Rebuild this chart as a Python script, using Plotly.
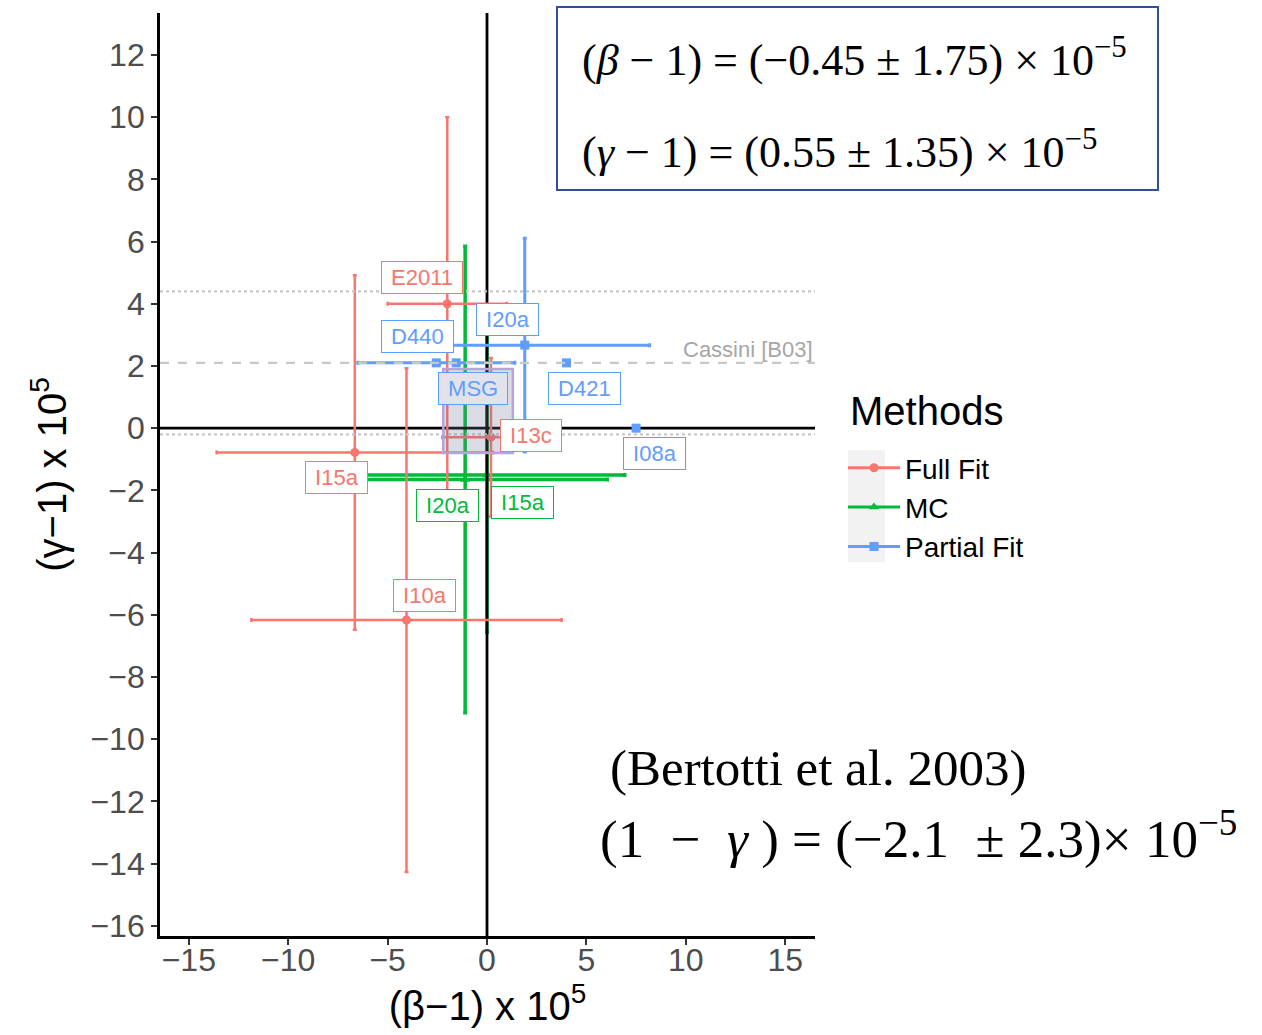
import plotly.graph_objects as go

# ---------------- data ----------------
full_labels = ["E2011", "I15a", "I10a", "I13c"]
full_beta = [-2.0, -6.65, -4.05, 0.2]
full_beta_err = [3.0, 6.95, 7.8, 2.45]
full_gamma = [4.0, -0.78, -6.17, -0.29]
full_gamma_err = [6.0, 5.7, 8.1, 2.55]

mc_labels = ["I20a", "I15a"]
mc_beta = [-1.1, 0.0]
mc_beta_err = [7.15, 6.93]
mc_gamma = [-1.65, -1.51]
mc_gamma_err = [7.5, 5.05]

pf_labels = ["I20a", "D440", "MSG", "D421", "I08a"]
pf_beta = [1.9, -2.55, -1.55, 4.0, 7.5]
pf_beta_err = [6.28, 3.95, 0.0, 0.0, 0.0]
pf_gamma = [2.67, 2.1, 2.1, 2.1, 0.0]
pf_gamma_err = [3.44, 0.0, 0.0, 0.0, 0.0]

combined_beta, combined_beta_err = -0.45, 1.75
combined_gamma, combined_gamma_err = 0.55, 1.35
cassini_gamma, cassini_gamma_err = 2.1, 2.3

x_ticks = [-15, -10, -5, 0, 5, 10, 15]
y_ticks = list(range(-16, 13, 2))
x_range = [-16.45, 16.5]
y_range = [-16.33, 13.35]

# ---------------- style ----------------
RED, GREEN, BLUE = "#F8766D", "#00BA38", "#619CFF"
full_shift = [(-25, 26), (-18, -25), (18, 25), (40, 2)]
mc_shift = [(-18, -26), (35, -27)]
pf_shift = [(-17, 26), (-19, 26), (17, -26), (18, -26), (18, -25)]

# plot area in pixels
L, R, T, B = 160, 815, 13, 936
W, H = 1262, 1035


def px(xp):
    return (xp - L) / (R - L)


def py(yp):
    return (B - yp) / (B - T)


fig = go.Figure()


def add_series(xs, xe, ys, ye, color, symbol, thick):
    fig.add_trace(go.Scatter(
        x=xs, y=ys, mode="markers",
        marker=dict(color=color, symbol=symbol, size=9),
        error_x=dict(type="data", array=xe, symmetric=True, color=color, thickness=thick, width=2),
        error_y=dict(type="data", array=ye, symmetric=True, color=color, thickness=thick, width=2),
        showlegend=False, hoverinfo="skip"))


add_series(mc_beta, mc_beta_err, mc_gamma, mc_gamma_err, GREEN, "triangle-up", 3.5)
# zero reference lines
fig.add_trace(go.Scatter(x=[0, 0], y=y_range, mode="lines", line=dict(color="black", width=2.8),
                         showlegend=False, hoverinfo="skip"))
fig.add_trace(go.Scatter(x=x_range, y=[0, 0], mode="lines", line=dict(color="black", width=2.8),
                         showlegend=False, hoverinfo="skip"))
add_series(full_beta, full_beta_err, full_gamma, full_gamma_err, RED, "circle", 2.5)
add_series(pf_beta, pf_beta_err, pf_gamma, pf_gamma_err, BLUE, "square", 3)

# legend entries
for name, color, symbol in [("Full Fit", RED, "circle"), ("MC", GREEN, "triangle-up"),
                            ("Partial Fit", BLUE, "square")]:
    fig.add_trace(go.Scatter(x=[None], y=[None], mode="lines+markers", name=name,
                             line=dict(color=color, width=3),
                             marker=dict(color=color, symbol=symbol, size=9)))

shapes = []
# Cassini lines
for yv, dash in [(cassini_gamma + cassini_gamma_err, "dot"), (cassini_gamma, "dash"),
                 (cassini_gamma - cassini_gamma_err, "dot")]:
    shapes.append(dict(type="line", xref="x", yref="y", x0=x_range[0], x1=x_range[1], y0=yv, y1=yv,
                       line=dict(color="#C8C8C8", width=2.2, dash=dash), layer="above"))
# combined box
shapes.append(dict(type="rect", xref="x", yref="y",
                   x0=combined_beta - combined_beta_err, x1=combined_beta + combined_beta_err,
                   y0=combined_gamma - combined_gamma_err, y1=combined_gamma + combined_gamma_err,
                   fillcolor="rgba(110,120,150,0.26)", line=dict(color="#B9A3D6", width=2.5),
                   layer="above"))
# formula box
shapes.append(dict(type="rect", xref="paper", yref="paper", x0=px(557), x1=px(1158), y0=py(190), y1=py(7),
                   line=dict(color="#2F4F9A", width=2), fillcolor="rgba(0,0,0,0)"))
# legend key background
shapes.append(dict(type="rect", xref="paper", yref="paper", x0=px(848), x1=px(885), y0=py(562), y1=py(450),
                   line=dict(width=0), fillcolor="#F2F2F2", layer="below"))

annotations = []


def add_labels(labels, xs, ys, shifts, color, bg="white"):
    for lab, xv, yv, (dx, dy) in zip(labels, xs, ys, shifts):
        annotations.append(dict(x=xv, y=yv, xref="x", yref="y", text="\u00a0" + lab + "\u00a0",
                                showarrow=False, xshift=dx, yshift=dy,
                                font=dict(family="Liberation Sans", size=22, color=color),
                                bgcolor=bg, bordercolor=color, borderwidth=1, borderpad=3))


add_labels(full_labels, full_beta, full_gamma, full_shift, RED)
add_labels(mc_labels, mc_beta, mc_gamma, mc_shift, GREEN)
add_labels(pf_labels, pf_beta, pf_gamma, pf_shift, BLUE)
# MSG label sits under the translucent box
annotations[-3]["bgcolor"] = "#E2E3EA"

annotations.append(dict(x=x_range[1], y=cassini_gamma, xref="x", yref="y", text="Cassini [B03]",
                        showarrow=False, xanchor="right", yanchor="bottom", yshift=-1,
                        font=dict(family="Liberation Sans", size=22, color="#A6A6A6")))

# legend title
annotations.append(dict(x=px(848), y=py(411), xref="paper", yref="paper", xanchor="left", yanchor="middle",
                        showarrow=False, text="Methods",
                        font=dict(family="Liberation Sans", size=40, color="black")))

serif = "Liberation Serif"
annotations.append(dict(x=px(580), y=py(58), xref="paper", yref="paper", xanchor="left", yanchor="middle",
                        showarrow=False,
                        text="(<i>β</i> − 1) = (−0.45 ± 1.75) × 10<sup>−5</sup>",
                        font=dict(family=serif, size=44, color="black")))
annotations.append(dict(x=px(580), y=py(150), xref="paper", yref="paper", xanchor="left", yanchor="middle",
                        showarrow=False,
                        text="(<i>γ</i> − 1) = (0.55 ± 1.35) × 10<sup>−5</sup>",
                        font=dict(family=serif, size=44, color="black")))
annotations.append(dict(x=px(608), y=py(768), xref="paper", yref="paper", xanchor="left", yanchor="middle",
                        showarrow=False, text="(Bertotti et al. 2003)",
                        font=dict(family=serif, size=51, color="black")))
annotations.append(dict(x=px(598), y=py(835), xref="paper", yref="paper", xanchor="left", yanchor="middle",
                        showarrow=False,
                        text="(1 \u00a0−\u00a0 <i>γ</i> ) = (−2.1 \u00a0± 2.3)× 10<sup>−5</sup>",
                        font=dict(family=serif, size=53, color="black")))

axis_common = dict(showgrid=False, zeroline=False, showline=True, linecolor="black", linewidth=2.8,
                   ticks="outside", ticklen=6, tickwidth=2, tickcolor="#333333",
                   tickfont=dict(family="Liberation Sans", size=32, color="#4D4D4D"))

fig.update_layout(
    width=W, height=H,
    margin=dict(l=L, r=W - R, t=T, b=H - B, autoexpand=False),
    plot_bgcolor="white", paper_bgcolor="white",
    xaxis=dict(range=x_range, tickvals=x_ticks, ticktext=[str(v).replace("-", "−") for v in x_ticks],
               ticklabelstandoff=-12,
               title=dict(text="(β−1) x 10<sup>5</sup>", font=dict(family="Liberation Sans", size=40, color="black"),
                          standoff=4),
               **axis_common),
    yaxis=dict(range=y_range, tickvals=y_ticks, ticktext=[str(v).replace("-", "−") for v in y_ticks],
               title=dict(text="(γ−1) x 10<sup>5</sup>", font=dict(family="Liberation Sans", size=40, color="black"),
                          standoff=12),
               **axis_common),
    legend=dict(x=px(843), y=py(443), xanchor="left", yanchor="top",
                font=dict(family="Liberation Sans", size=28, color="black"),
                bgcolor="rgba(0,0,0,0)", tracegroupgap=0, itemwidth=52),
    shapes=shapes, annotations=annotations,
)

fig.write_html("out.html")
